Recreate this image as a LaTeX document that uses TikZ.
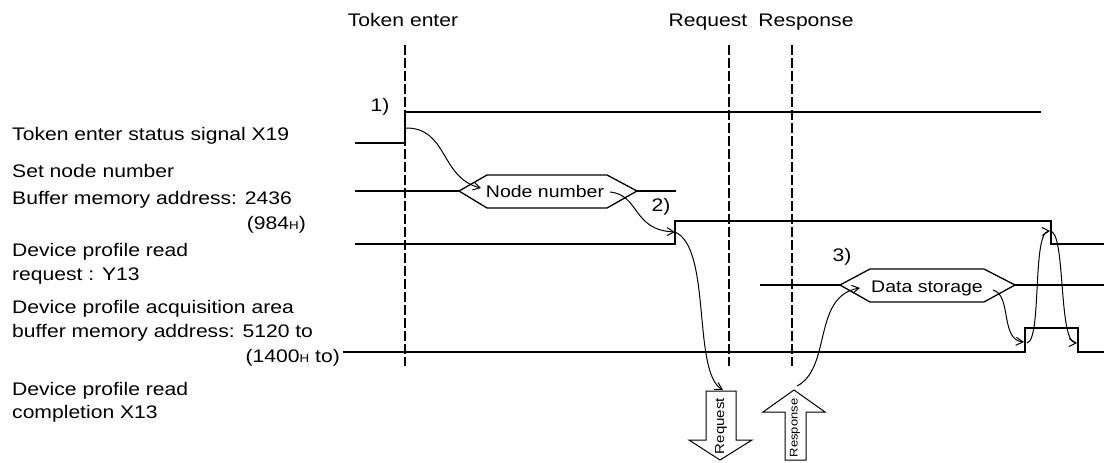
\documentclass[tikz,border=0pt]{standalone}
\usepackage{fontspec}
\setmainfont{Liberation Sans}[FakeStretch=1.16]
\usetikzlibrary{arrows.meta}
\begin{document}
\begin{tikzpicture}[x=1pt,y=-1pt,
  lbl/.style={font=\fontsize{18.2}{25}\selectfont, inner sep=0pt, anchor=base west},
  lblr/.style={lbl, anchor=base east},
  toplbl/.style={lbl, anchor=base},
  hextxt/.style={font=\fontsize{16.8}{18}\selectfont, inner sep=0pt, anchor=base},
  smalltxt/.style={inner sep=0pt, rotate=90, anchor=center},
  sigline/.style={line width=1.3pt},
  dataline/.style={line width=1.6pt},
  timeline/.style={line width=1.8pt, dash pattern=on 10pt off 3pt},
  cv/.style={line width=1pt, -{Straight Barb[length=7pt,width=8pt]}},
  blockarrow/.style={line width=1pt, fill=white}
]
\useasboundingbox (0,0) rectangle (1104,463);
\newcommand{\hsub}{{\fontsize{11.5}{11}\selectfont H}}

% top labels
\node[toplbl] (tTok) at (403,27) {Token enter};
\node[toplbl] (tReq) at (708,27) {Request};
\node[toplbl] (tRes) at (806,27) {Response};

% dashed time lines
\draw[timeline] (405,45) -- (405,366);
\draw[timeline] (729,45) -- (729,366);
\draw[timeline] (792,45) -- (792,366);

% left labels
\node[lbl] (l1) at (12,140) {Token enter status signal X19};
\node[lbl] (l2) at (12,177) {Set node number};
\node[lbl] (l3) at (12,204) {Buffer memory address: 2436};
\node[lblr] (l4) at (306,229) {(984\hsub)};
\node[lbl] (l5) at (12,256) {Device profile read};
\node[lbl] (l6) at (12,280) {request : Y13};
\node[lbl] (l7) at (12,313) {Device profile acquisition area};
\node[lbl] (l8) at (12,337) {buffer memory address: 5120 to};
\node[lblr] (l9) at (340,362) {(1400\hsub\ to)};
\node[lbl] (l10) at (12,395) {Device profile read};
\node[lbl] (l11) at (12,418) {completion X13};

% step labels
\node[lbl, anchor=center] (s1) at (380,107) {1)};
\node[lbl, anchor=center] (s2) at (661,207) {2)};
\node[lbl, anchor=center] (s3) at (842,257) {3)};

% X19
\draw[sigline] (355,143) -- (405,143) -- (405,112) -- (1041,112);
% Set node number
\draw[dataline] (355,191) -- (459,191);
\draw[dataline] (637,191) -- (676,191);
\draw[sigline] (459,191) -- (487,175) -- (607,175) -- (637,191) -- (607,208) -- (487,208) -- cycle;
\node[hextxt] (nn) at (545,197) {Node number};
% Y13
\draw[sigline] (355,244) -- (675,244) -- (675,221) -- (1051,221) -- (1051,244) -- (1104,244);
% Acquisition area
\draw[dataline] (760,285) -- (840,285);
\draw[dataline] (1015,285) -- (1104,285);
\draw[sigline] (840,285) -- (870,269) -- (984,269) -- (1015,285) -- (984,302) -- (870,302) -- cycle;
\node[hextxt] (ds) at (927,292) {Data storage};
% X13
\draw[sigline] (343,352) -- (1025,352) -- (1025,328) -- (1078,328) -- (1078,352) -- (1104,352);

% block arrows
\draw[blockarrow] (706,391) -- (736,391) -- (736,440) -- (752,440) -- (720,460) -- (689,440) -- (706,440) -- cycle;
\node[smalltxt, font=\fontsize{13}{13}\selectfont] (ra) at (721,426) {Request};
\draw[blockarrow] (785,460) -- (806,460) -- (806,412) -- (825,412) -- (794,390) -- (763,412) -- (785,412) -- cycle;
\node[smalltxt, font=\fontsize{11.2}{12}\selectfont] (sa) at (795,428) {Response};

% connector coordinates
\coordinate (c1a) at (405,128);
\coordinate (c1b) at (481,188);
\coordinate (c2a) at (610,192);
\coordinate (c2b) at (675,232);
\coordinate (c3b) at (723,390);
\coordinate (c4a) at (797,386);
\coordinate (c4b) at (860,288);
\coordinate (c5a) at (993,290);
\coordinate (c5b) at (1024,342);
\coordinate (c6a) at (1027,343);
\coordinate (c6b) at (1050,231);
\coordinate (c7b) at (1077,343);

% curved arrows
\draw[cv] (c1a) .. controls (448,127) and (440,178) .. (c1b);
\draw[cv] (c2a) .. controls (640,195) and (632,230) .. (c2b);
\draw[cv] (c2b) .. controls (712,248) and (692,372) .. (c3b);
\draw[cv] (c4a) .. controls (832,368) and (812,296) .. (c4b);
\draw[cv] (c5a) .. controls (1012,295) and (1000,340) .. (c5b);
\draw[cv] (c6a) .. controls (1042,340) and (1032,232) .. (c6b);
\draw[cv] (c6b) .. controls (1066,231) and (1058,342) .. (c7b);
\end{tikzpicture}
\end{document}
